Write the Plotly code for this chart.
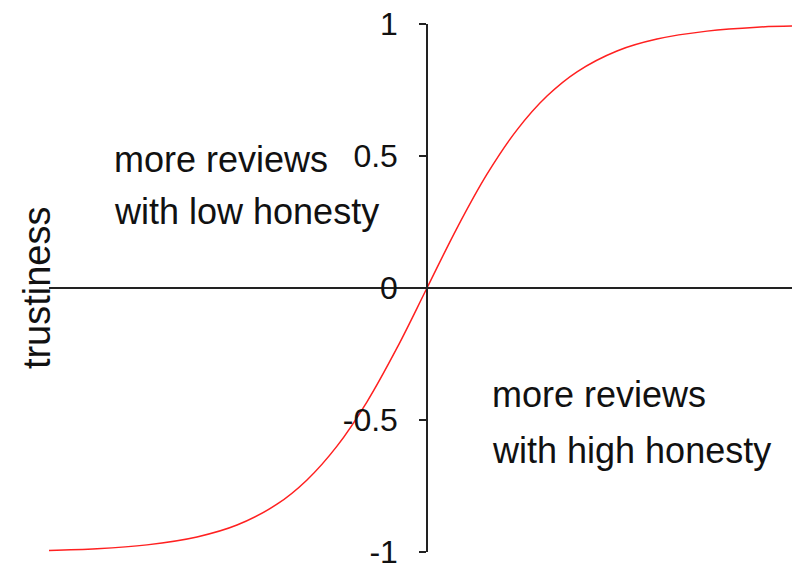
import plotly.graph_objects as go

# Curve (x in arbitrary horizontal units, centre at 0)
curve_x = [-3.78, -3.3, -2.8, -2.3, -1.9, -1.5, -1.2, -0.9, -0.6, -0.3, 0.0,
           0.3, 0.6, 0.9, 1.2, 1.5, 1.9, 2.3, 2.8, 3.3, 3.65]
curve_y = [-0.994, -0.988, -0.973, -0.943, -0.898, -0.819, -0.727, -0.599, -0.431, -0.227, 0.0,
           0.227, 0.431, 0.599, 0.727, 0.819, 0.898, 0.943, 0.973, 0.988, 0.992]

tick_vals = [-1, -0.5, 0, 0.5, 1]
tick_text = ["-1", "-0.5", "0", "0.5", "1"]

y_title = "trustiness"
left_note = ["more reviews", "with low honesty"]
right_note = ["more reviews", "with high honesty"]

FONT = "Liberation Sans, Arial, sans-serif"
FS = 32
FA = 36

fig = go.Figure()
fig.add_trace(go.Scatter(x=curve_x, y=curve_y, mode="lines",
                         line=dict(color="#ff2020", width=1.5, shape="spline"),
                         hoverinfo="skip", showlegend=False, cliponaxis=False))

ann = []
for i, t in enumerate(left_note):
    ann.append(dict(x=-3.15, y=[0.485, 0.288][i], xref="x", yref="y", text=t,
                    showarrow=False, xanchor="left", yanchor="middle",
                    font=dict(family=FONT, size=FA, color="#111")))
for i, t in enumerate(right_note):
    ann.append(dict(x=0.63, y=[-0.405, -0.614][i], xref="x", yref="y", text=t,
                    showarrow=False, xanchor="left", yanchor="middle",
                    font=dict(family=FONT, size=FA, color="#111")))
ann.append(dict(x=-0.016, y=0, xref="paper", yref="y", text=y_title, textangle=-90,
                showarrow=False, xanchor="center", yanchor="middle",
                font=dict(family=FONT, size=38, color="#111")))

fig.update_layout(
    width=792, height=568,
    margin=dict(l=49, r=0, t=24, b=16, autoexpand=False),
    paper_bgcolor="white", plot_bgcolor="white",
    xaxis=dict(range=[-3.78, 3.65], visible=False, showgrid=False, zeroline=False,
               automargin=False),
    yaxis=dict(range=[-1, 1], anchor="free", position=0.5088, automargin=False,
               showline=True, linecolor="#222", linewidth=1.5,
               ticks="outside", ticklen=7, tickcolor="#222", tickwidth=1.5,
               tickvals=tick_vals, ticktext=tick_text, ticklabelstandoff=15,
               ticklabeloverflow="allow",
               tickfont=dict(family=FONT, size=FS, color="#111"),
               showgrid=False, zeroline=True, zerolinecolor="#222", zerolinewidth=1.5),
    annotations=ann,
)
fig.write_html("out.html", config={"responsive": False, "displayModeBar": False},
               post_script="document.body.style.margin='0';document.body.style.overflow='hidden';")
